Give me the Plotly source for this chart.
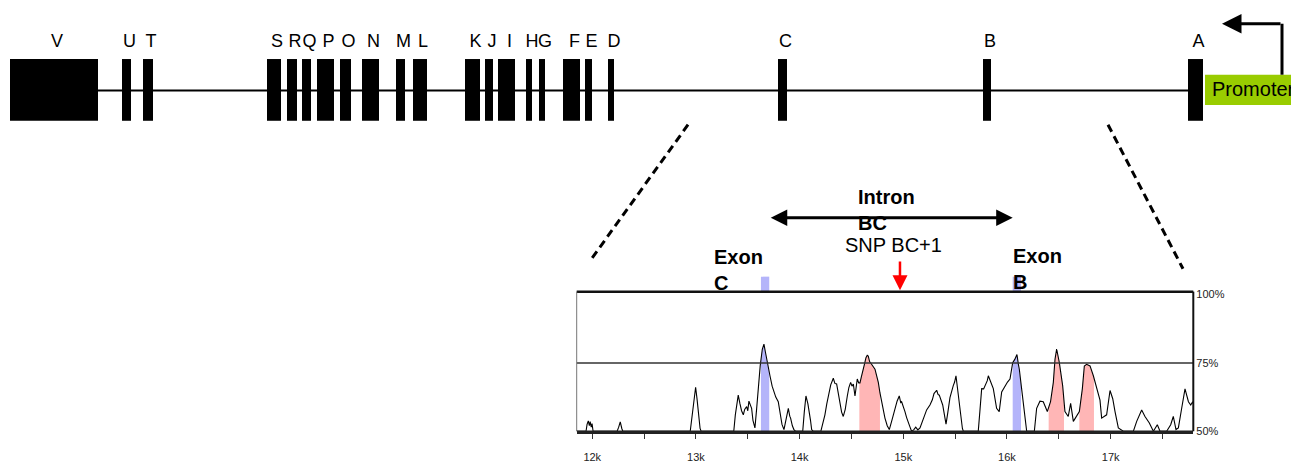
import numpy as np
import plotly.graph_objects as go

# ---------------- data ----------------
# Gene structure (schematic track units)
exon_names = ["V", "U", "T", "S", "R", "Q", "P", "O", "N", "M", "L",
              "K", "J", "I", "H", "G", "F", "E", "D", "C", "B", "A"]
exon_start = [10, 122, 143, 267, 287, 302, 317, 340, 362, 396, 413,
              465, 485, 498, 526, 539, 563, 585, 608, 778, 983, 1188]
exon_end = [98, 131, 153, 281, 297, 311, 334, 351, 379, 405, 427,
            480, 493, 515, 532, 545, 580, 592, 614, 787, 991, 1203]
promoter = (1205, 1297)

# Conservation profile (bp position, % identity)
cons_pos = [11850, 11940, 11950, 11962, 11972, 11980, 11990, 11998, 12008,
            12240, 12255, 12270, 12285, 12295,
            12945, 12965, 12985, 12997, 13010, 13025, 13040, 13050,
            13365, 13380, 13408, 13425, 13440, 13457, 13470, 13489, 13500, 13511,
            13525, 13537, 13550, 13569, 13585, 13601, 13620, 13640, 13656, 13670,
            13682, 13700, 13714, 13735, 13752, 13770, 13794, 13805, 13817, 13830,
            13849, 13870, 13891, 13905, 13913, 13930, 13945, 13960,
            14030, 14045, 14061, 14080, 14093, 14105, 14116, 14130,
            14205, 14215, 14244, 14262, 14277, 14300, 14325, 14340, 14357, 14375,
            14389, 14405, 14421, 14440, 14460, 14475, 14492, 14505, 14518, 14534,
            14545, 14556, 14570, 14582, 14596, 14608, 14625, 14640, 14652, 14662,
            14675, 14694, 14710, 14727, 14745, 14759, 14775, 14791, 14805, 14823,
            14845, 14865, 14890, 14920, 14940, 14961, 14975, 14984, 15000, 15016,
            15032, 15048, 15065, 15080, 15100, 15120, 15140, 15161, 15193, 15225,
            15257, 15280, 15296, 15322, 15335, 15347, 15380, 15400, 15412, 15430,
            15450, 15482, 15495, 15508, 15530, 15553, 15570, 15579,
            15723, 15740, 15756, 15775, 15788, 15810, 15820, 15842, 15868, 15900,
            15925, 15949, 15981, 16005, 16029, 16045, 16055, 16075, 16096, 16110,
            16119, 16141, 16164, 16190,
            16264, 16286, 16318, 16350, 16389, 16420, 16447, 16463, 16479, 16505,
            16537, 16559, 16591, 16614, 16640, 16666, 16698, 16727, 16746, 16768,
            16801, 16833, 16865, 16897, 16913, 16961, 16994, 17020, 17042, 17074,
            17122, 17219, 17251, 17299, 17331, 17373, 17412, 17450, 17476,
            17540, 17579, 17604, 17630, 17653, 17685, 17717, 17750, 17772, 17791, 17797]
cons_pct = [50, 50, 52.5, 53.8, 52.0, 53.5, 51.5, 52.8, 50,
            50, 51.5, 53.4, 51.0, 50,
            50, 56, 64, 66.1, 62, 55, 51, 50,
            50, 56, 63.2, 60, 57.5, 56.0, 58, 59.0, 57.5, 61.0,
            59.5, 58.4, 54, 51.2, 58, 66.7, 74, 80, 81.9, 79,
            76.3, 72.5, 70.3, 66.5, 64.4, 62.5, 60.8, 58, 54.8, 52.5,
            50.6, 55, 58.4, 55.5, 54.8, 52, 50.6, 50,
            50, 57, 62.9, 60, 57.2, 54, 50.6, 50,
            50, 51.5, 56.0, 60, 62.9, 67, 69.4, 67.5, 67.3, 63,
            59.6, 57, 55.4, 58, 62.9, 66, 67.9, 66.5, 67.3, 62.9,
            66, 69.1, 67.7, 67.7, 70, 71.5, 74.5, 76.9, 77.8, 77.5,
            75.5, 74.5, 73.5, 72.7, 70, 67.9, 64, 60.8, 57.5, 54.8,
            52, 50.6, 54, 58.4, 61, 62.9, 60.5, 60.8, 58.5, 57.2,
            55, 53.6, 51.5, 50, 50.5, 51.5, 50.5, 51.2, 54.8, 57.8,
            59.6, 61.5, 63.8, 65.0, 63.5, 63.2, 59.6, 55, 52.6, 57,
            62.3, 66.7, 68, 70.3, 63.2, 56.0, 51, 50,
            50, 58, 65.6, 65.5, 66.7, 68.5, 70.3, 67.9, 65.6, 58.4,
            57.2, 64.4, 66.7, 68, 69.1, 72, 75.1, 76.3, 78.1, 74.5,
            72.7, 65.6, 58.4, 50,
            50, 58.4, 61.0, 60.8, 57.2, 60.8, 67.9, 76.3, 80.1, 75.1,
            66.7, 57.2, 55.4, 60.2, 53.6, 55.4, 57.2, 65.6, 73.9, 74.5,
            73.9, 70.3, 65.6, 61.4, 54.8, 56.0, 64.9, 61.9, 57.2, 51.2,
            50, 50, 53.6, 57.8, 55.4, 53.0, 50, 52.4, 50,
            50, 52.4, 55.4, 50.6, 51.2, 58.4, 65.5, 60.8, 59.6, 60.8, 60]
exon_c_bp = (13627, 13707)
exon_b_bp = (16055, 16135)
cns_regions = [(14576, 14775), (16402, 16550), (16698, 16839)]
snp_bp = 14968
x_tick_vals = [12000, 12500, 13000, 13500, 14000, 14500, 15000, 15500, 16000, 16500, 17000, 17500]
x_tick_text = ["12k", "", "13k", "", "14k", "", "15k", "", "16k", "", "17k", ""]
y_tick_vals = [50, 75, 100]
y_tick_text = ["50%", "75%", "100%"]

# ---------------- figure ----------------
W, H = 1299, 463
OFF = 8  # page body margin in the browser
FW, FH = W - OFF, H - OFF
box_l, box_r, box_t, box_b = 576.7, 1193.3, 294.3, 436.7
BLUE = "#b4b4fa"
PINK = "#ffb6b6"
FONT = "Liberation Sans, Arial, sans-serif"
NARROW = "Liberation Sans Narrow, Arial Narrow, Liberation Sans, sans-serif"

fig = go.Figure()

# exon labels on the gene track
centers = [(s + e) / 2 + 3 for s, e in zip(exon_start, exon_end)]
fig.add_trace(go.Scatter(x=centers, y=[40] * len(centers), text=exon_names,
                         mode="text", textfont=dict(size=18, color="black", family=FONT),
                         xaxis="x", yaxis="y", hoverinfo="skip", showlegend=False))

pos = np.array(cons_pos, float)
pct = np.array(cons_pct, float)


def region_trace(a, b, color):
    inner = pos[(pos > a) & (pos < b)]
    xs = np.concatenate([[a], inner, [b]])
    ys = np.interp(xs, pos, pct)
    return go.Scatter(x=xs, y=ys, fill="tozeroy", fillcolor=color, mode="lines",
                      line=dict(width=0, color=color), xaxis="x2", yaxis="y2",
                      hoverinfo="skip", showlegend=False)


fig.add_trace(region_trace(*exon_c_bp, BLUE))
fig.add_trace(region_trace(*exon_b_bp, BLUE))
for a, b in cns_regions:
    fig.add_trace(region_trace(a, b, PINK))

fig.add_trace(go.Scatter(x=cons_pos, y=cons_pct, mode="lines",
                         line=dict(color="black", width=1.1), xaxis="x2", yaxis="y2",
                         hoverinfo="skip", showlegend=False))

shapes = []
# gene backbone
shapes.append(dict(type="line", xref="x", yref="y", x0=exon_end[0], x1=exon_start[-1],
                   y0=89, y1=89, line=dict(color="black", width=2)))
for s, e in zip(exon_start, exon_end):
    shapes.append(dict(type="rect", xref="x", yref="y", x0=s, x1=e, y0=57, y1=120,
                       fillcolor="black", line=dict(width=0)))
# promoter
shapes.append(dict(type="rect", xref="x", yref="y", x0=promoter[0], x1=promoter[1],
                   y0=73, y1=104, fillcolor="#99cc00", line=dict(width=0)))
shapes.append(dict(type="line", xref="x", yref="y", x0=1282, x1=1282, y0=73, y1=21,
                   line=dict(color="black", width=3)))
# zoom connectors
shapes.append(dict(type="line", xref="x", yref="y", x0=688, y0=124, x1=590, y1=263,
                   line=dict(color="black", width=3, dash="8px,5px")))
shapes.append(dict(type="line", xref="x", yref="y", x0=1108, y0=124, x1=1183, y1=271,
                   line=dict(color="black", width=3, dash="8px,5px")))
# exon marks above the conservation box
for a, b in (exon_c_bp, exon_b_bp):
    shapes.append(dict(type="rect", xref="x2", yref="y", x0=a, x1=b, y0=279, y1=box_t,
                       fillcolor=BLUE, line=dict(width=0)))
# 75% line and box
shapes.append(dict(type="line", xref="x2 domain", yref="y2", x0=0, x1=1, y0=75, y1=75,
                   line=dict(color="#333", width=1.5)))
shapes.append(dict(type="line", xref="x2 domain", yref="y2 domain", x0=0, x1=1, y0=1, y1=1,
                   line=dict(color="#111", width=2.5)))
shapes.append(dict(type="line", xref="x2 domain", yref="y2 domain", x0=0, x1=0, y0=0, y1=1,
                   line=dict(color="#777", width=1)))
shapes.append(dict(type="line", xref="x2 domain", yref="y2 domain", x0=1, x1=1, y0=0, y1=1,
                   line=dict(color="#111", width=2)))
shapes.append(dict(type="line", xref="x2 domain", yref="y2", x0=0, x1=1, y0=50, y1=50,
                   line=dict(color="#222", width=1.5)))

annotations = [
    # TSS arrow
    dict(x=1222, y=21, ax=1282, ay=21, xref="x", yref="y", axref="x", ayref="y",
         text="", showarrow=True, arrowhead=2, arrowsize=1.3, arrowwidth=3, arrowcolor="black"),
    dict(x=1210, y=88, xref="x", yref="y", text="Promoter", showarrow=False,
         xanchor="left", yanchor="middle", font=dict(size=20, color="black", family=FONT)),
    # intron double arrow
    dict(x=exon_b_bp[0], y=219, ax=exon_c_bp[1], ay=219, xref="x2", yref="y",
         axref="x2", ayref="y", text="", showarrow=True, arrowhead=2, startarrowhead=2,
         arrowside="end+start", arrowsize=1.1, startarrowsize=1.1, arrowwidth=3,
         arrowcolor="black"),
    dict(x=856, y=211, xref="x", yref="y", text="Intron<br>BC", showarrow=False,
         xanchor="left", yanchor="middle", align="left",
         font=dict(size=20, color="black", family=FONT, weight="bold")),
    dict(x=893, y=247, xref="x", yref="y", text="SNP BC+1", showarrow=False,
         xanchor="center", yanchor="middle", font=dict(size=20, color="black", family=FONT)),
    # SNP arrow
    dict(x=snp_bp, y=293, ax=snp_bp, ay=262, xref="x2", yref="y", axref="x2", ayref="y",
         text="", showarrow=True, arrowhead=2, arrowsize=1.2, arrowwidth=2.5, arrowcolor="red"),
    dict(x=712, y=272, xref="x", yref="y", text="Exon<br>C", showarrow=False,
         xanchor="left", yanchor="middle", align="left",
         font=dict(size=20, color="black", family=FONT, weight="bold")),
    dict(x=1011, y=271, xref="x", yref="y", text="Exon<br>B", showarrow=False,
         xanchor="left", yanchor="middle", align="left",
         font=dict(size=20, color="black", family=FONT, weight="bold")),
]

fig.update_layout(
    width=FW, height=FH, margin=dict(l=0, r=0, t=0, b=0),
    paper_bgcolor="white", plot_bgcolor="rgba(0,0,0,0)",
    showlegend=False,
    xaxis=dict(range=[OFF, W], domain=[0, 1], visible=False, autorange=False),
    yaxis=dict(range=[H, OFF], domain=[0, 1], visible=False, autorange=False),
    xaxis2=dict(range=[11850, 17797], domain=[(box_l - OFF) / FW, (box_r - OFF) / FW],
                anchor="y2", autorange=False, showgrid=False, zeroline=False,
                showline=True, linecolor="#222", linewidth=3,
                tickmode="array", tickvals=x_tick_vals, ticktext=x_tick_text,
                ticks="outside", ticklen=5, tickwidth=1, tickcolor="#333",
                ticklabelstandoff=9,
                tickfont=dict(size=11, color="#222", family=NARROW)),
    yaxis2=dict(range=[50, 101.1],
                domain=[1 - (box_b - OFF) / FH, 1 - (box_t - OFF) / FH], anchor="x2",
                side="right", autorange=False, showgrid=False, zeroline=False,
                showline=False, tickmode="array", tickvals=y_tick_vals, ticktext=y_tick_text,
                ticks="", ticklabelstandoff=2,
                tickfont=dict(size=11, color="#222", family=NARROW)),
    shapes=shapes, annotations=annotations,
)

fig.write_html("out.html")
